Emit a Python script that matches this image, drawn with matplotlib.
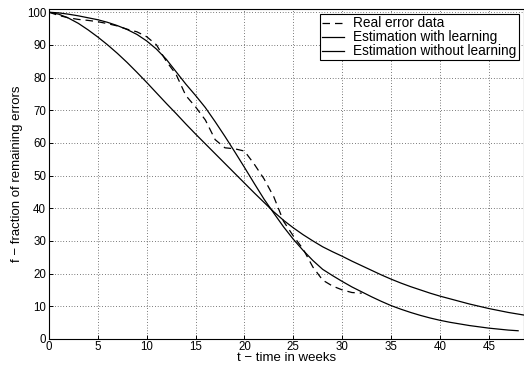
import numpy as np
import matplotlib
matplotlib.use('Agg')
import matplotlib.pyplot as plt

# real error data (weekly)
t_real = np.arange(0, 33)
f_real = [100, 99, 98.3, 97.8, 97.5, 97.1, 96.5, 95.8, 94.8, 94.0, 92.5,
          90.0, 85.0, 81.0, 74.5, 71.0, 67.0, 61.0, 58.5, 58.2, 57.5, 53.5,
          49.0, 43.5, 36.0, 31.5, 27.5, 22.0, 18.0, 16.2, 15.0, 14.2, 14.0]

# estimation with learning
t_learn = np.arange(0, 49)
f_learn = [100, 99.8, 99.4, 98.9, 98.3, 97.7, 96.9, 95.9, 94.7, 93.2, 91.2,
           88.7, 85.6, 81.8, 78.0, 74.5, 70.8, 66.5, 62.0, 57.3, 52.5, 47.6,
           42.8, 38.5, 34.3, 30.5, 27.1, 24.0, 21.3, 19.4, 17.6, 15.9, 14.4,
           12.9, 11.5, 10.2, 9.1, 8.1, 7.2, 6.4, 5.7, 5.1, 4.6, 4.1, 3.7, 3.3,
           3.0, 2.7, 2.5]

# estimation without learning
t_nolearn = np.arange(0, 50)
f_nolearn = [100, 99.4, 98.2, 96.6, 94.6, 92.4, 90.0, 87.4, 84.6, 81.6, 78.5,
             75.3, 72.1, 69.0, 65.8, 62.7, 59.7, 56.7, 53.7, 50.7, 47.7, 44.7,
             41.8, 38.9, 36.3, 34.0, 31.9, 30.0, 28.2, 26.7, 25.3, 23.8, 22.4,
             21.0, 19.6, 18.3, 17.1, 16.0, 15.0, 14.0, 13.1, 12.3, 11.5, 10.7,
             10.0, 9.3, 8.7, 8.1, 7.6, 7.1]

plt.rcParams['font.family'] = ['Liberation Sans', 'DejaVu Sans']

fig = plt.figure(figsize=(5.24, 3.66), dpi=100)
ax = fig.add_axes([0.0935, 0.074, 0.9065, 0.9015])

ax.plot(t_real, f_real, color='black', linestyle=(0, (6, 4)), linewidth=0.9,
        label='Real error data')
ax.plot(t_learn, f_learn, color='black', linewidth=0.9,
        label='Estimation with learning')
ax.plot(t_nolearn, f_nolearn, color='black', linewidth=0.9,
        label='Estimation without learning')

ax.set_xlim(0, 48.6)
ax.set_ylim(0, 101)
ax.set_xticks(np.arange(0, 50, 5))
ax.set_yticks(np.arange(0, 101, 10))
ax.tick_params(direction='in', labelsize=8.3, length=3, width=0.7)
ax.tick_params(axis='x', pad=1.5)
ax.tick_params(axis='y', pad=2)
ax.grid(True, color='black', linestyle=(0, (1, 3)), linewidth=0.5)
for s in ax.spines.values():
    s.set_linewidth(0.8)

ax.set_xlabel('t \u2212 time in weeks', fontsize=9.5, labelpad=-1)
ax.set_ylabel('f \u2212 fraction of remaining errors', fontsize=9.5, labelpad=3)

leg = ax.legend(loc='upper right', fontsize=9.8, fancybox=False,
                edgecolor='black', framealpha=1, borderpad=0.15,
                labelspacing=0.0, handlelength=1.65, handletextpad=0.65,
                borderaxespad=0.4)
leg.get_frame().set_linewidth(0.8)

fig.savefig('out.png', dpi=100)
